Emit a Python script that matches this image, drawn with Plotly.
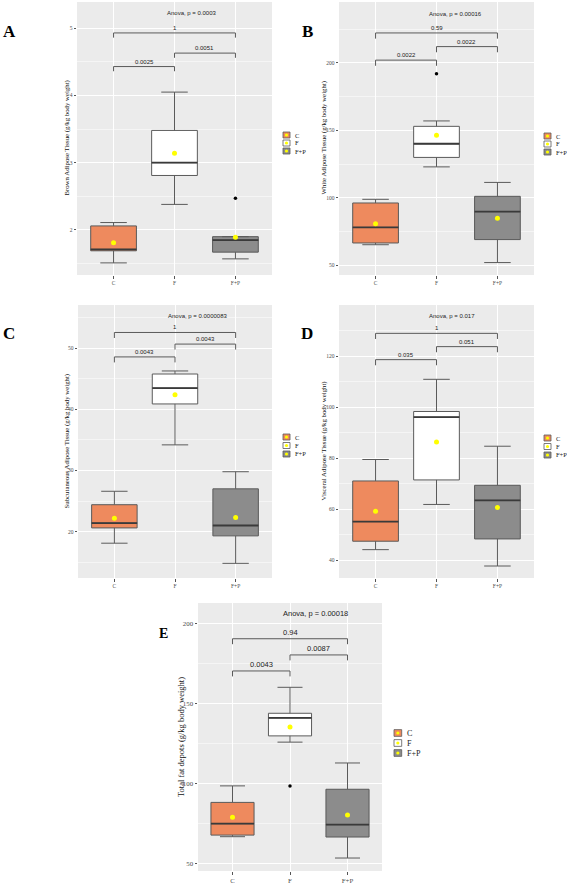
import plotly.graph_objects as go

W, H = 567, 884

categories = ["C", "F", "F+P"]
fill_colors = ["#EE8A5E", "#FFFFFF", "#8C8C8C"]
line_color = "#5A5A5A"

# ---------------- data ----------------
# Panel A: Brown adipose tissue
a_low = [1.51, 2.38, 1.57]
a_q1 = [1.69, 2.81, 1.67]
a_med = [1.71, 3.00, 1.85]
a_q3 = [2.06, 3.48, 1.90]
a_high = [2.11, 4.05, 1.90]
a_mean = [1.81, 3.14, 1.89]
a_out = [[], [], [2.47]]
a_pvals = ["0.0025", "0.0051", "1"]
a_anova = "Anova, p = 0.0003"
a_title = "Brown Adipose Tissue (g/kg body weight)"
a_ticks = [2, 3, 4, 5]

# Panel B: White adipose tissue
b_low = [65.4, 123.0, 52.2]
b_q1 = [66.7, 130.0, 69.2]
b_med = [78.2, 140.1, 89.9]
b_q3 = [96.3, 153.0, 101.2]
b_high = [99.0, 157.0, 111.5]
b_mean = [81.0, 146.4, 85.0]
b_out = [[], [191.9], []]
b_pvals = ["0.0022", "0.0022", "0.59"]
b_anova = "Anova, p = 0.00016"
b_title = "White Adipose Tissue (g/kg body weight)"
b_ticks = [50, 100, 150, 200]

# Panel C: Subcutaneous adipose tissue
c_low = [18.1, 34.2, 14.8]
c_q1 = [20.6, 40.9, 19.3]
c_med = [21.4, 43.5, 21.0]
c_q3 = [24.4, 45.8, 27.0]
c_high = [26.6, 46.3, 29.8]
c_mean = [22.2, 42.4, 22.3]
c_out = [[], [], []]
c_pvals = ["0.0043", "0.0043", "1"]
c_anova = "Anova, p = 0.0000083"
c_title = "Subcutaneous Adipose Tissue (g/kg body weight)"
c_ticks = [20, 30, 40, 50]

# Panel D: Visceral adipose tissue
d_low = [44.2, 61.9, 37.8]
d_q1 = [47.5, 71.5, 48.4]
d_med = [55.2, 96.1, 63.5]
d_q3 = [71.1, 98.3, 69.4]
d_high = [79.5, 110.9, 84.7]
d_mean = [59.2, 86.4, 60.7]
d_out = [[], [], []]
d_pvals = ["0.035", "0.051", "1"]
d_anova = "Anova, p = 0.017"
d_title = "Visceral Adipose Tissue (g/kg body weight)"
d_ticks = [40, 60, 80, 100, 120]

# Panel E: Total fat depots
e_low = [67.0, 126.0, 53.7]
e_q1 = [68.0, 129.9, 66.8]
e_med = [75.1, 141.1, 74.5]
e_q3 = [88.4, 144.0, 96.6]
e_high = [98.7, 160.2, 113.0]
e_mean = [79.2, 135.5, 80.6]
e_out = [[], [98.7], []]
e_pvals = ["0.0043", "0.0087", "0.94"]
e_anova = "Anova, p = 0.00018"
e_title = "Total fat depots (g/kg body weight)"
e_ticks = [50, 100, 150, 200]

pairs = [(0, 1), (1, 2), (0, 2)]

# ---------------- layout config (pixel geometry) ----------------
panels = [
    dict(letter="A", low=a_low, q1=a_q1, med=a_med, q3=a_q3, high=a_high, mean=a_mean, out=a_out,
         pvals=a_pvals, anova=a_anova, title=a_title, ticks=a_ticks,
         px=(77, 272), py=(2, 275), yr=(1.33, 5.39), minor=0.5,
         br=[4.43, 4.63, 4.93], tip=0.07, anova_y=5.22,
         title_x=66, letter_xy=(9, 32), leg=(283, 135, 8), fs=1.0),
    dict(letter="B", low=b_low, q1=b_q1, med=b_med, q3=b_q3, high=b_high, mean=b_mean, out=b_out,
         pvals=b_pvals, anova=b_anova, title=b_title, ticks=b_ticks,
         px=(339, 534), py=(2, 275), yr=(43, 245), minor=25,
         br=[202, 212, 222.1], tip=4.2, anova_y=236,
         title_x=323, letter_xy=(307, 32), leg=(544, 136, 8), fs=1.0),
    dict(letter="C", low=c_low, q1=c_q1, med=c_med, q3=c_q3, high=c_high, mean=c_mean, out=c_out,
         pvals=c_pvals, anova=c_anova, title=c_title, ticks=c_ticks,
         px=(78, 272), py=(305, 578), yr=(12.4, 57.1), minor=5,
         br=[48.6, 50.7, 52.6], tip=0.9, anova_y=55.3,
         title_x=66, letter_xy=(9, 333), leg=(283, 437, 8.5), fs=1.0),
    dict(letter="D", low=d_low, q1=d_q1, med=d_med, q3=d_q3, high=d_high, mean=d_mean, out=d_out,
         pvals=d_pvals, anova=d_anova, title=d_title, ticks=d_ticks,
         px=(339, 534), py=(305, 578), yr=(33.1, 140), minor=10,
         br=[118.6, 123.7, 128.9], tip=2.2, anova_y=135.8,
         title_x=323, letter_xy=(307, 333), leg=(544, 438, 8.5), fs=1.0),
    dict(letter="E", low=e_low, q1=e_q1, med=e_med, q3=e_q3, high=e_high, mean=e_mean, out=e_out,
         pvals=e_pvals, anova=e_anova, title=e_title, ticks=e_ticks,
         px=(198, 382), py=(603, 871), yr=(45.6, 212.8), minor=25,
         br=[170.4, 180.4, 190.5], tip=3.4, anova_y=206.2,
         title_x=181, letter_xy=(163, 633), leg=(394, 733, 10), fs=1.25),
]

BOX_W = 0.75

fig = go.Figure()
layout = dict(width=W, height=H, margin=dict(l=0, r=0, t=0, b=0),
              paper_bgcolor="white", plot_bgcolor="#EBEBEB", showlegend=False,
              boxmode="overlay", hovermode=False)
annotations = []
shapes = []

def px2x(x):
    return x / W

def py2y(y):
    return 1 - y / H

for i, p in enumerate(panels, start=1):
    xa = "x" if i == 1 else f"x{i}"
    ya = "y" if i == 1 else f"y{i}"
    xkey = "xaxis" if i == 1 else f"xaxis{i}"
    ykey = "yaxis" if i == 1 else f"yaxis{i}"
    fs = p["fs"]
    pos = list(range(len(categories)))

    for k, cat in enumerate(categories):
        fig.add_trace(go.Box(
            x=[pos[k]], q1=[p["q1"][k]], median=[p["med"][k]], q3=[p["q3"][k]],
            lowerfence=[p["low"][k]], upperfence=[p["high"][k]],
            width=BOX_W, whiskerwidth=0.58, fillcolor=fill_colors[k],
            line=dict(color=line_color, width=1), boxpoints=False,
            name=cat, xaxis=xa, yaxis=ya, hoverinfo="skip"))
        # thicker median line (ggplot style)
        fig.add_trace(go.Scatter(
            x=[pos[k] - BOX_W / 2, pos[k] + BOX_W / 2], y=[p["med"][k], p["med"][k]],
            mode="lines", line=dict(color="#3A3A3A", width=1.8),
            xaxis=xa, yaxis=ya, hoverinfo="skip"))
        if p["out"][k]:
            fig.add_trace(go.Scatter(
                x=[pos[k]] * len(p["out"][k]), y=p["out"][k], mode="markers",
                marker=dict(color="black", size=3.5), xaxis=xa, yaxis=ya, hoverinfo="skip"))

    fig.add_trace(go.Scatter(x=pos, y=p["mean"], mode="markers",
                             marker=dict(color="#FFFF00", size=5, symbol="circle"),
                             xaxis=xa, yaxis=ya, hoverinfo="skip"))

    # brackets
    for (a, b), yb, lab in zip(pairs, p["br"], p["pvals"]):
        fig.add_trace(go.Scatter(x=[a, a, b, b], y=[yb - p["tip"], yb, yb, yb - p["tip"]],
                                 mode="lines", line=dict(color=line_color, width=1),
                                 xaxis=xa, yaxis=ya, hoverinfo="skip"))
        annotations.append(dict(x=(a + b) / 2, y=yb, xref=xa, yref=ya, text=lab,
                                showarrow=False, yanchor="bottom", yshift=0,
                                font=dict(family="Liberation Sans", size=6 * fs, color="#222")))
    annotations.append(dict(x=0.85, y=p["anova_y"], xref=xa, yref=ya, text=p["anova"],
                            showarrow=False, xanchor="left", yanchor="middle",
                            font=dict(family="Liberation Sans", size=6 * fs, color="#222")))

    x0, x1 = p["px"]
    y0, y1 = p["py"]
    layout[xkey] = dict(domain=[px2x(x0), px2x(x1)], anchor=ya, range=[-0.6, 2.6],
                        tickmode="array", tickvals=pos, ticktext=categories,
                        showgrid=True, gridcolor="white", gridwidth=1, zeroline=False,
                        ticks="outside", ticklen=2.5, tickcolor="#555",
                        tickfont=dict(family="Liberation Serif", size=5.5 * fs, color="#4D4D4D"),
                        showline=False, fixedrange=True)
    layout[ykey] = dict(domain=[py2y(y1), py2y(y0)], anchor=xa, range=list(p["yr"]),
                        tickmode="array", tickvals=p["ticks"],
                        showgrid=True, gridcolor="white", gridwidth=1, zeroline=False,
                        ticks="outside", ticklen=2.5, tickcolor="#555",
                        tickfont=dict(family="Liberation Serif", size=5.5 * fs, color="#4D4D4D"),
                        minor=dict(dtick=p["minor"], tick0=p["ticks"][0], showgrid=True,
                                   gridcolor="white", gridwidth=0.5, ticklen=0),
                        showline=False, fixedrange=True)

    # axis title
    annotations.append(dict(x=px2x(p["title_x"]), y=py2y((y0 + y1) / 2), xref="paper", yref="paper",
                            text=p["title"], textangle=-90, showarrow=False,
                            xanchor="center", yanchor="middle",
                            font=dict(family="Liberation Serif", size=6.8 * fs, color="#111")))
    # panel letter
    lx, ly = p["letter_xy"]
    annotations.append(dict(x=px2x(lx), y=py2y(ly), xref="paper", yref="paper",
                            text="<b>%s</b>" % p["letter"], showarrow=False,
                            xanchor="center", yanchor="middle",
                            font=dict(family="Liberation Serif", size=17 if fs == 1 else 14, color="black")))
    # legend (manual, ggplot style keys)
    kx, ky, step = p["leg"]
    ks = 7 * (1.0 if fs == 1 else 1.1)
    for k, cat in enumerate(categories):
        cy = ky + k * step
        shapes.append(dict(type="rect", xref="paper", yref="paper",
                           x0=px2x(kx), x1=px2x(kx + ks), y0=py2y(cy + ks / 2 - 0.5), y1=py2y(cy - ks / 2 + 0.5),
                           fillcolor=fill_colors[k], line=dict(color=line_color, width=0.8)))
        shapes.append(dict(type="circle", xref="paper", yref="paper",
                           x0=px2x(kx + ks / 2 - 1.6), x1=px2x(kx + ks / 2 + 1.6),
                           y0=py2y(cy + 1.6), y1=py2y(cy - 1.6),
                           fillcolor="#FFFF00", line=dict(width=0)))
        annotations.append(dict(x=px2x(kx + ks + 3), y=py2y(cy), xref="paper", yref="paper",
                                text=cat, showarrow=False, xanchor="left", yanchor="middle",
                                font=dict(family="Liberation Serif", size=6.5 * fs, color="#222")))

layout["annotations"] = annotations
layout["shapes"] = shapes
fig.update_layout(**layout)
fig.write_html("out.html", config={"displayModeBar": False, "staticPlot": True})

# remove default body margin so the figure fills the window exactly
with open("out.html", "r", encoding="utf-8") as f:
    html = f.read()
html = html.replace("<body>", '<body style="margin:0;padding:0;overflow:hidden">', 1)
with open("out.html", "w", encoding="utf-8") as f:
    f.write(html)
